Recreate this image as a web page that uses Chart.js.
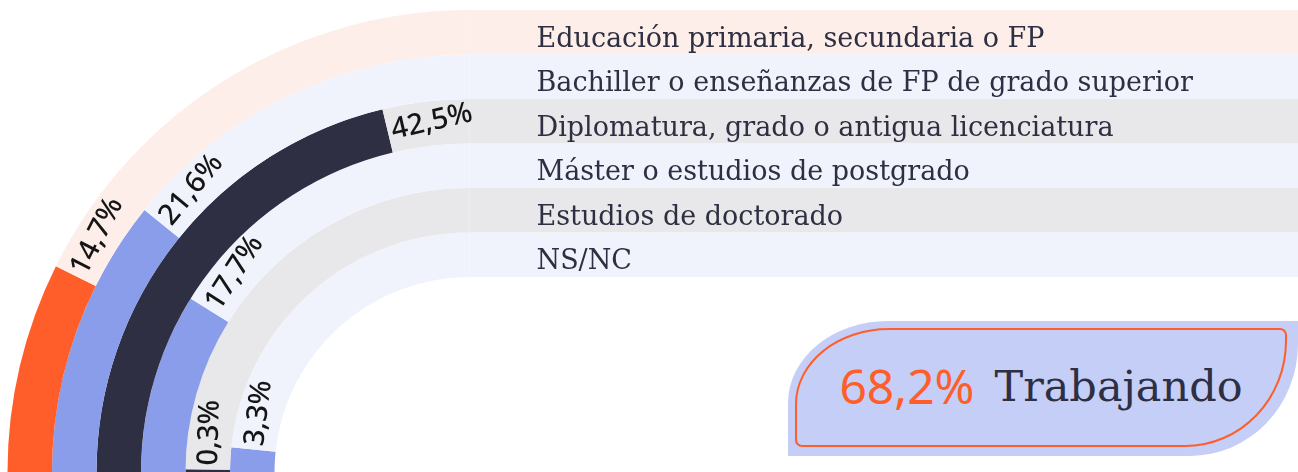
<!DOCTYPE html>
<html>
<head>
<meta charset="utf-8">
<script src="https://cdn.jsdelivr.net/npm/chart.js@4"></script>
<style>
body { margin: 0; background: #fff; }
#wrap { position: relative; width: 1298px; height: 472px; overflow: hidden; }
#badge {
	position: absolute; left: 788px; top: 321px; width: 510px; height: 135px;
	background: #c5cef6;
	border-radius: 100px 0 108px 0 / 82px 0 112px 0;
}
#badge .frame {
	position: absolute; left: 7px; top: 7px; right: 11px; bottom: 9px;
	border: 2px solid #ff5e2a;
	border-radius: 94px 7px 102px 7px / 76px 7px 106px 7px;
	display: flex; align-items: center; justify-content: center;
	white-space: nowrap;
}
#badge .pct { font: 48px 'Noto Sans'; color: #ff5e2a; margin-right: 20px; position: relative; top: -2px; }
#badge .txt { font: 43px 'DejaVu Serif'; color: #2e2f42; position: relative; top: -2px; }
</style>
</head>
<body>
<div id="wrap">
	<canvas id="rings" width="1298" height="472"></canvas>
	<div id="badge"><div class="frame"><span class="pct">68,2%</span><span class="txt">Trabajando</span></div></div>
</div>
<script>
const categories = [
	'Educación primaria, secundaria o FP',
	'Bachiller o enseñanzas de FP de grado superior',
	'Diplomatura, grado o antigua licenciatura',
	'Máster o estudios de postgrado',
	'Estudios de doctorado',
	'NS/NC'
];
const shares = [14.7, 21.6, 42.5, 17.7, 0.3, 3.3];
const scaleMax = 50;
const barColors = ['#ff5e2a', '#8a9deb', '#2e2f42', '#8a9deb', '#2e2f42', '#8a9deb'];
const trackColors = ['#fdeee9', '#f0f3fc', '#e8e8ea', '#f0f3fc', '#e8e8ea', '#f0f3fc'];

const fmt = v => v.toFixed(1).replace('.', ',') + '%';

function ringGeometry(chart, i, idx) {
	const arc = chart.getDatasetMeta(i).data[idx];
	return arc.getProps(['x', 'y', 'startAngle', 'endAngle', 'innerRadius', 'outerRadius'], true);
}

// track bands continue to the right edge, with the category name on them
const rowBands = {
	id: 'rowBands',
	beforeDatasetsDraw(chart) {
		const ctx = chart.ctx;
		ctx.save();
		chart.data.datasets.forEach((ds, i) => {
			const g = ringGeometry(chart, i, 1);
			ctx.fillStyle = trackColors[i];
			ctx.fillRect(g.x, g.y - g.outerRadius, chart.width - g.x, g.outerRadius - g.innerRadius);
			ctx.fillStyle = '#2e2f42';
			ctx.font = "27px 'DejaVu Serif'";
			ctx.textAlign = 'left';
			ctx.textBaseline = 'alphabetic';
			const mid = g.y - (g.outerRadius + g.innerRadius) / 2;
			ctx.fillText(categories[i], g.x + 67, mid + 14.5);
		});
		ctx.restore();
	}
};

// value written along the ring, just past the end of each bar
const endLabels = {
	id: 'endLabels',
	afterDatasetsDraw(chart) {
		const ctx = chart.ctx;
		chart.data.datasets.forEach((ds, i) => {
			const g = ringGeometry(chart, i, 0);
			const r = (g.innerRadius + g.outerRadius) / 2;
			const a = g.endAngle + 4 / r;
			ctx.save();
			ctx.translate(g.x + Math.cos(a) * r, g.y + Math.sin(a) * r);
			ctx.rotate(a + Math.PI / 2);
			ctx.fillStyle = '#151515';
			ctx.font = "500 29px 'Noto Sans'";
			ctx.textAlign = 'left';
			ctx.textBaseline = 'middle';
			ctx.fillText(fmt(shares[i]), 0, 1);
			ctx.restore();
		});
	}
};

new Chart(document.getElementById('rings'), {
	type: 'doughnut',
	data: {
		labels: ['valor', 'resto'],
		datasets: shares.map((v, i) => ({
			data: [v, scaleMax - v],
			backgroundColor: [barColors[i], trackColors[i]],
			borderWidth: 0,
			hoverOffset: 0,
		})),
	},
	options: {
		responsive: false,
		animation: false,
		events: [],
		rotation: -90,
		circumference: 90,
		cutout: '42.2%',
		layout: {
			padding: { left: 7, top: 10, right: 828, bottom: 0 },
		},
		plugins: {
			legend: { display: false },
			tooltip: { enabled: false },
		},
	},
	plugins: [rowBands, endLabels],
});
</script>
</body>
</html>
